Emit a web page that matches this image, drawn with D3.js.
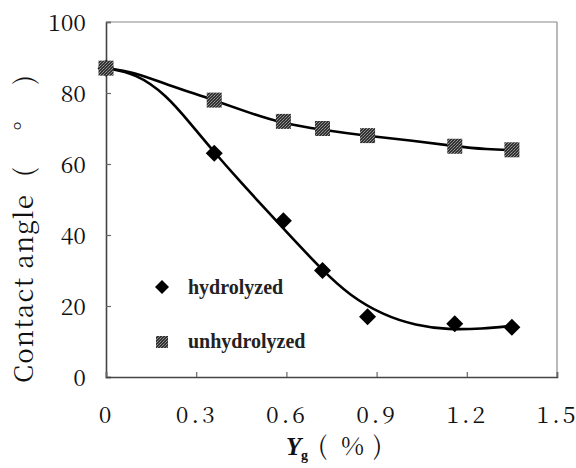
<!DOCTYPE html>
<html><head><meta charset="utf-8">
<script src="https://cdn.jsdelivr.net/npm/d3@7/dist/d3.min.js"></script>
</head><body style="margin:0">
<svg id="c" width="576" height="468"></svg>
<script>
// ---- data ----
const xTicks = [0, 0.3, 0.6, 0.9, 1.2, 1.5];
const xTickLabels = ["0", "0.3", "0.6", "0.9", "1.2", "1.5"];
const yTicks = [0, 20, 40, 60, 80, 100];
const hydroX = [0, 0.36, 0.59, 0.72, 0.87, 1.16, 1.35];
const hydroY = [87, 63, 44, 30, 17, 15, 14];
const unhydroX = [0, 0.36, 0.59, 0.72, 0.87, 1.16, 1.35];
const unhydroY = [87, 78, 72, 70, 68, 65, 64];
// fitted curves
const hydroFitX = [0, 0.1, 0.2, 0.28, 0.36, 0.45, 0.5, 0.59, 0.72, 0.81, 0.92, 1.03, 1.14, 1.25, 1.35];
const hydroFitY = [87, 85.5, 79.5, 71.5, 63.3, 54.7, 50.1, 41.8, 30, 23, 17.5, 14.5, 13.3, 13.6, 14.4];
const unhydroFitX = [0, 0.09, 0.2, 0.36, 0.48, 0.58, 0.72, 0.87, 1.02, 1.16, 1.27, 1.35];
const unhydroFitY = [87, 86, 82.4, 78, 74.3, 71.6, 69.6, 67.9, 66.6, 65, 64.1, 63.9];
const legendLabels = ["hydrolyzed", "unhydrolyzed"];
const yTitle = ["Contact angle", "( ° )"];
const xTitle = ["Y", "g", "(", "%", ")"];

const SONG = "'Noto Serif CJK SC'";
const SERIF = "'Liberation Serif'";

// ---- layout ----
const L = 106, R = 557, T = 22, B = 377;
const svg = d3.select("#c");
const x = d3.scaleLinear().domain([0, 1.5]).range([L, R]);
const y = d3.scaleLinear().domain([0, 100]).range([B, T]);

// pattern for grey squares
const defs = svg.append("defs");
const pat = defs.append("pattern").attr("id", "sq").attr("width", 3).attr("height", 3)
  .attr("patternUnits", "userSpaceOnUse");
pat.append("rect").attr("width", 3).attr("height", 3).attr("fill", "#333");
pat.append("rect").attr("x", 0).attr("y", 0).attr("width", 1).attr("height", 1).attr("fill", "#8c8c8c");
pat.append("rect").attr("x", 2).attr("y", 1).attr("width", 1).attr("height", 1).attr("fill", "#7a7a7a");
pat.append("rect").attr("x", 1).attr("y", 2).attr("width", 1).attr("height", 1).attr("fill", "#999");

// frame
svg.append("line").attr("x1", L).attr("x2", R).attr("y1", T).attr("y2", T).attr("stroke", "#8a8a8a").attr("stroke-width", 1.2);
svg.append("line").attr("x1", R).attr("x2", R).attr("y1", T).attr("y2", B).attr("stroke", "#8a8a8a").attr("stroke-width", 1.2);

// axes via d3
const yAxis = d3.axisLeft(y).tickValues(yTicks).tickSize(-5).tickPadding(20).tickFormat(d3.format("d"));
const gy = svg.append("g").attr("transform", `translate(${L},0)`).call(yAxis);
gy.attr("font-family", null).attr("font-size", null);
gy.select(".domain").attr("stroke", "#444").attr("stroke-width", 1.6);
gy.selectAll(".tick line").attr("stroke", "#666").attr("stroke-width", 1.2);
gy.selectAll(".tick text").style("font-family", SONG).attr("font-size", 23)
  .attr("fill", "#111").attr("dy", "0.36em").attr("x", -20);

const xAxis = d3.axisBottom(x).tickValues(xTicks).tickSize(-5).tickPadding(0)
  .tickFormat((d, i) => xTickLabels[i]);
const gx = svg.append("g").attr("transform", `translate(0,${B})`).call(xAxis);
gx.attr("font-family", null).attr("font-size", null);
gx.select(".domain").attr("stroke", "#444").attr("stroke-width", 1.6);
gx.selectAll(".tick text").style("font-family", SONG).attr("font-size", 23)
  .attr("fill", "#111").attr("y", 46).attr("dy", 0).attr("letter-spacing", 3).attr("dx", 0);
gx.selectAll(".tick line").attr("stroke", "#666").attr("stroke-width", 1.2);

// fitted curves
const line = d3.line().x(d => x(d[0])).y(d => y(d[1])).curve(d3.curveBasis);
svg.append("path").datum(unhydroFitX.map((v, i) => [v, unhydroFitY[i]]))
  .attr("d", line).attr("fill", "none").attr("stroke", "#000").attr("stroke-width", 2.6);
svg.append("path").datum(hydroFitX.map((v, i) => [v, hydroFitY[i]]))
  .attr("d", line).attr("fill", "none").attr("stroke", "#000").attr("stroke-width", 2.6);

// markers (diamonds first, squares on top as in the reference)
const diamond = s => `M0,${-s}L${s},0L0,${s}L${-s},0Z`;
svg.append("g").selectAll("path").data(hydroX.map((v, i) => [v, hydroY[i]])).join("path")
  .attr("transform", d => `translate(${x(d[0])},${y(d[1])})`)
  .attr("d", diamond(8.5)).attr("fill", "#000");
svg.append("g").selectAll("rect").data(unhydroX.map((v, i) => [v, unhydroY[i]])).join("rect")
  .attr("x", d => x(d[0]) - 7.5).attr("y", d => y(d[1]) - 7.5)
  .attr("width", 15).attr("height", 15).attr("fill", "url(#sq)");

// legend
svg.append("path").attr("transform", "translate(162,287)").attr("d", diamond(7)).attr("fill", "#000");
svg.append("rect").attr("x", 156).attr("y", 336).attr("width", 12).attr("height", 12).attr("fill", "url(#sq)");
svg.selectAll("text.leg").data(legendLabels).join("text").attr("class", "leg")
  .attr("x", 188).attr("y", (d, i) => 294 + i * 54).text(d => d)
  .style("font-family", SERIF).attr("font-size", 20).attr("font-weight", "bold").attr("fill", "#222");

// y title
svg.append("text").attr("transform", "translate(33,383) rotate(-90)")
  .style("font-family", SONG).attr("font-size", 26).attr("fill", "#111")
  .attr("textLength", 188).attr("lengthAdjust", "spacing").text(yTitle[0]);
svg.append("text").attr("transform", "translate(33,177) rotate(-90)")
  .style("font-family", SONG).attr("font-size", 26).attr("fill", "#111")
  .attr("textLength", 102).attr("lengthAdjust", "spacing").text(yTitle[1]);

// x title
const xt = svg.append("text").attr("y", 455).style("font-family", SERIF).attr("font-size", 25).attr("fill", "#111");
xt.append("tspan").attr("x", 286).attr("font-weight", "bold").attr("font-style", "italic").text(xTitle[0]);
xt.append("tspan").attr("x", 301).attr("font-size", 14).attr("dy", 5).attr("font-weight", "bold").text(xTitle[1]);
xt.append("tspan").attr("x", 318).attr("dy", -5).style("font-family", SONG).text(xTitle[2]);
xt.append("tspan").attr("x", 341).style("font-family", SONG).text(xTitle[3]);
xt.append("tspan").attr("x", 373).style("font-family", SONG).text(xTitle[4]);
</script>
</body></html>
